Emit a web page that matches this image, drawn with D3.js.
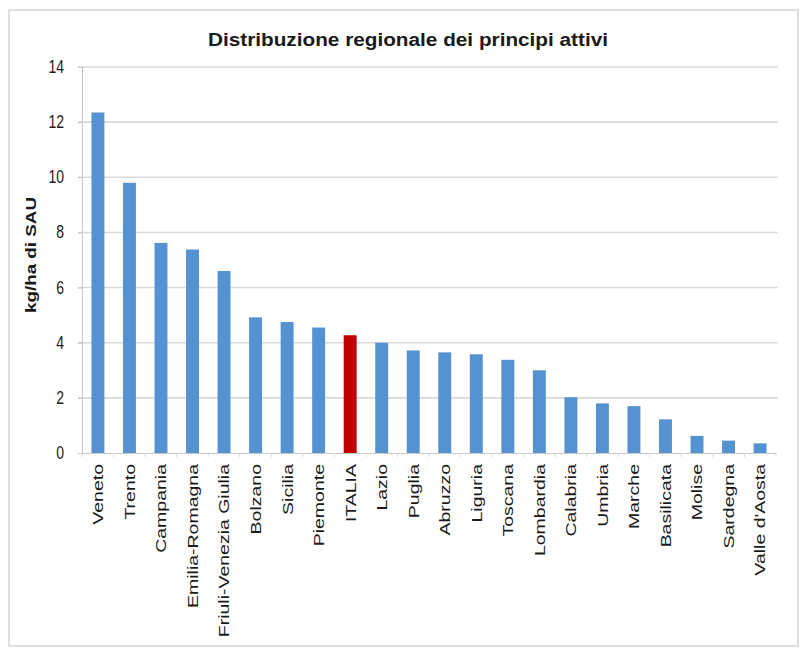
<!DOCTYPE html>
<html>
<head>
<meta charset="utf-8">
<script src="https://cdn.jsdelivr.net/npm/d3@7"></script>
<style>
  html, body { margin: 0; padding: 0; background: #ffffff; }
  svg { display: block; }
  text { font-family: "Liberation Sans", Arial, sans-serif; fill: #1a1a1a; }
</style>
</head>
<body>
<svg id="chart" width="800" height="648"></svg>
<script>
const title = "Distribuzione regionale dei principi attivi";
const yLabel = "kg/ha di SAU";
const categories = ["Veneto", "Trento", "Campania", "Emilia-Romagna", "Friuli-Venezia Giulia",
  "Bolzano", "Sicilia", "Piemonte", "ITALIA", "Lazio", "Puglia", "Abruzzo", "Liguria",
  "Toscana", "Lombardia", "Calabria", "Umbria", "Marche", "Basilicata", "Molise",
  "Sardegna", "Valle d'Aosta"];
const values = [12.35, 9.8, 7.62, 7.38, 6.6, 4.92, 4.75, 4.55, 4.27, 4.0, 3.72, 3.65, 3.58,
  3.38, 3.0, 2.02, 1.8, 1.7, 1.22, 0.62, 0.45, 0.35];
const highlight = "ITALIA";
const yTicks = [0, 2, 4, 6, 8, 10, 12, 14];

const data = categories.map((c, i) => ({ cat: c, val: values[i] }));

const svg = d3.select("#chart");

// outer chart frame
svg.append("rect")
  .attr("x", 9).attr("y", 10).attr("width", 789).attr("height", 636)
  .attr("fill", "#ffffff").attr("stroke", "#d4d4d4").attr("stroke-width", 1.5);

const plotL = 82, plotR = 776, plotT = 67, plotB = 453;

const x = d3.scaleBand().domain(categories).range([plotL, plotR]).paddingInner(0.59).paddingOuter(0.3);
const y = d3.scaleLinear().domain([0, 14]).range([plotB, plotT]);

// gridlines
svg.append("g")
  .selectAll("line")
  .data(yTicks.filter(t => t > 0))
  .join("line")
  .attr("x1", plotL - 4).attr("x2", plotR + 2)
  .attr("y1", d => y(d)).attr("y2", d => y(d))
  .attr("stroke", "#d9d9d9").attr("stroke-width", 1.6);

// y axis
const yAxis = svg.append("g")
  .attr("transform", `translate(${plotL},0)`)
  .call(d3.axisLeft(y).tickValues(yTicks).tickSize(4).tickPadding(0).tickFormat(d3.format("d")));
yAxis.select(".domain").attr("stroke", "#c8c8c8");
yAxis.selectAll(".tick line").attr("stroke", "#c8c8c8");
yAxis.selectAll(".tick text")
  .attr("x", null).attr("dy", null)
  .attr("text-anchor", "end")
  .attr("transform", "translate(-18,5.5) scale(1,1.3)")
  .style("font-size", "14px")
  .style("font-family", "'Liberation Sans', Arial, sans-serif")
  .style("fill", "#1a1a1a");

// bars
svg.append("g")
  .selectAll("rect")
  .data(data)
  .join("rect")
  .attr("x", d => x(d.cat))
  .attr("width", x.bandwidth())
  .attr("y", d => y(d.val))
  .attr("height", d => y(0) - y(d.val))
  .attr("fill", d => d.cat === highlight ? "#c00000" : "#5592d2");

// x axis
const xAxis = svg.append("g")
  .attr("transform", `translate(0,${plotB})`)
  .call(d3.axisBottom(x).tickSize(0).tickFormat(""));
xAxis.select(".domain").attr("stroke", "#c8c8c8");
xAxis.selectAll(".tick").remove();

// category separator ticks
const sepStep = (plotR - plotL) / categories.length;
svg.append("g")
  .selectAll("line")
  .data(d3.range(categories.length + 1))
  .join("line")
  .attr("x1", i => plotL + i * sepStep)
  .attr("x2", i => plotL + i * sepStep)
  .attr("y1", plotB).attr("y2", plotB + 4)
  .attr("stroke", "#d8d8d8");

// x labels (rotated)
svg.append("g")
  .selectAll("text")
  .data(data)
  .join("text")
  .attr("text-anchor", "end")
  .attr("dy", "0.36em")
  .attr("transform", d => `translate(${x(d.cat) + x.bandwidth() / 2},464) rotate(-90) scale(1.3,1)`)
  .style("font-size", "15px")
  .text(d => d.cat);

// y axis title
svg.append("text")
  .attr("text-anchor", "middle")
  .attr("transform", "translate(36,255) rotate(-90) scale(1.3,1)")
  .style("font-size", "14.5px")
  .style("font-weight", "bold")
  .text(yLabel);

// chart title
svg.append("text")
  .attr("x", 208).attr("y", 46)
  .attr("textLength", 400)
  .attr("lengthAdjust", "spacingAndGlyphs")
  .style("font-size", "18px")
  .style("font-weight", "bold")
  .text(title);
</script>
</body>
</html>
